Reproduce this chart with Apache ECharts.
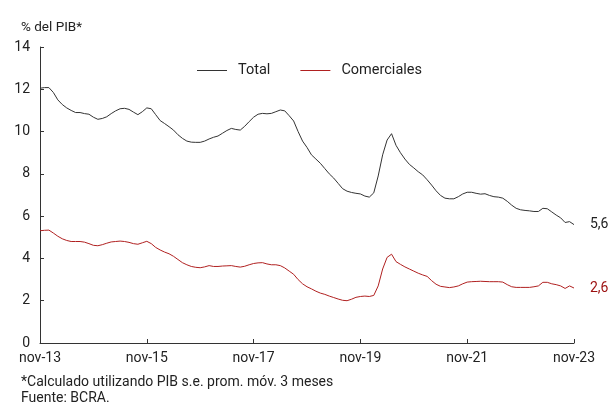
<!DOCTYPE html>
<html><head><meta charset="utf-8">
<script src="https://cdn.jsdelivr.net/npm/echarts@6/dist/echarts.min.js"></script>
<style>html,body{margin:0;padding:0;background:#fff}#c{width:611px;height:403px}</style>
</head><body><div id="c"></div>
<script>
const monthNames = ['ene','feb','mar','abr','may','jun','jul','ago','sep','oct','nov','dic'];
const startYear = 2013, startMonth = 10, nMonths = 121;
const categories = [];
for (let k = 0; k < nMonths; k++) {
  const m = (startMonth + k) % 12, y = startYear + Math.floor((startMonth + k) / 12);
  categories.push(monthNames[m] + '-' + String(y).slice(2));
}
const total = [12.05,12.08,12.08,11.85,11.5,11.28,11.12,11.0,10.9,10.9,10.85,10.82,10.68,10.58,10.62,10.7,10.85,10.98,11.08,11.1,
11.05,10.92,10.8,10.94,11.12,11.08,10.8,10.52,10.38,10.23,10.07,9.85,9.68,9.55,9.5,9.49,9.49,9.55,9.65,9.73,
9.79,9.92,10.05,10.15,10.1,10.07,10.25,10.47,10.68,10.82,10.86,10.84,10.86,10.94,11.02,10.98,10.75,10.5,10.0,9.55,
9.25,8.9,8.7,8.5,8.25,8.0,7.8,7.55,7.3,7.18,7.12,7.08,7.05,6.95,6.9,7.1,7.9,8.9,9.6,9.9,
9.35,9.0,8.7,8.45,8.28,8.1,7.95,7.72,7.47,7.2,6.98,6.85,6.82,6.82,6.92,7.05,7.13,7.13,7.08,7.04,
7.06,6.98,6.92,6.9,6.85,6.7,6.52,6.37,6.3,6.27,6.25,6.22,6.22,6.37,6.35,6.2,6.05,5.92,5.7,5.74,5.6];
const comerciales = [5.31,5.33,5.34,5.2,5.05,4.93,4.85,4.8,4.8,4.8,4.77,4.7,4.62,4.6,4.65,4.72,4.78,4.8,4.82,4.8,
4.76,4.7,4.67,4.74,4.81,4.7,4.52,4.4,4.3,4.22,4.1,3.95,3.8,3.7,3.62,3.58,3.56,3.6,3.66,3.62,
3.62,3.64,3.65,3.66,3.62,3.59,3.63,3.7,3.76,3.79,3.8,3.74,3.7,3.7,3.66,3.55,3.4,3.25,3.0,2.8,
2.66,2.56,2.45,2.36,2.3,2.22,2.15,2.08,2.02,2.0,2.07,2.16,2.2,2.22,2.2,2.25,2.7,3.5,4.05,4.2,
3.85,3.72,3.6,3.5,3.4,3.3,3.22,3.15,2.95,2.78,2.68,2.65,2.62,2.65,2.7,2.8,2.88,2.9,2.91,2.92,
2.91,2.9,2.9,2.9,2.88,2.76,2.66,2.63,2.63,2.63,2.63,2.66,2.7,2.87,2.87,2.8,2.76,2.7,2.58,2.7,2.6];
const seriesNames = ['Total','Comerciales'];
const yTicks = [0,2,4,6,8,10,12,14];

const FONT = 'Roboto';
const chart = echarts.init(document.getElementById('c'), null, {renderer:'canvas'});
const fmtEnd = p => p.value.toFixed(1).replace('.', ',');
chart.setOption({
  animation: false,
  textStyle: {fontFamily: FONT},
  grid: {left: 40, right: 37, top: 47, bottom: 60, containLabel: false},
  title: [
    {text: '% del PIB*', left: 16, top: 16, textStyle: {fontSize: 13.5, fontWeight: 'normal', color: '#222', fontFamily: FONT}},
    {text: '*Calculado utilizando PIB s.e. prom. móv. 3 meses\nFuente: BCRA.', left: 16, top: 369,
     textStyle: {fontSize: 14, fontWeight: 'normal', color: '#222', lineHeight: 16, fontFamily: FONT}}
  ],
  legend: {
    left: 192, top: 58, itemWidth: 30, itemHeight: 1, itemGap: 30,
    icon: 'rect',
    textStyle: {fontSize: 14.5, color: '#222', fontFamily: FONT, padding: [0,0,0,6]},
    data: seriesNames
  },
  xAxis: {
    type: 'category', data: categories, boundaryGap: false,
    axisLine: {lineStyle: {color: '#333', width: 1}},
    axisTick: {inside: true, length: 4, interval: 23, lineStyle: {color: '#333'}},
    axisLabel: {interval: 23, color: '#222', fontSize: 14, margin: 8, fontFamily: FONT},
    splitLine: {show: false}
  },
  yAxis: {
    type: 'value', min: yTicks[0], max: yTicks[yTicks.length-1], interval: 2,
    axisLine: {show: true, lineStyle: {color: '#333', width: 1}},
    axisTick: {show: true, inside: true, length: 4, lineStyle: {color: '#333'}},
    axisLabel: {color: '#222', fontSize: 14, margin: 10, fontFamily: FONT},
    splitLine: {show: false}
  },
  series: [
    {name: seriesNames[0], type: 'line', data: total, symbol: 'none', smooth: false,
     lineStyle: {color: '#333', width: 1}, itemStyle: {color: '#333'},
     endLabel: {show: true, formatter: fmtEnd, color: '#222', fontSize: 14, distance: 16, fontFamily: FONT}},
    {name: seriesNames[1], type: 'line', data: comerciales, symbol: 'none', smooth: false,
     lineStyle: {color: '#b02020', width: 1}, itemStyle: {color: '#b02020'},
     endLabel: {show: true, formatter: fmtEnd, color: '#9c1010', fontSize: 14, distance: 16, fontFamily: FONT}}
  ]
});
</script></body></html>
